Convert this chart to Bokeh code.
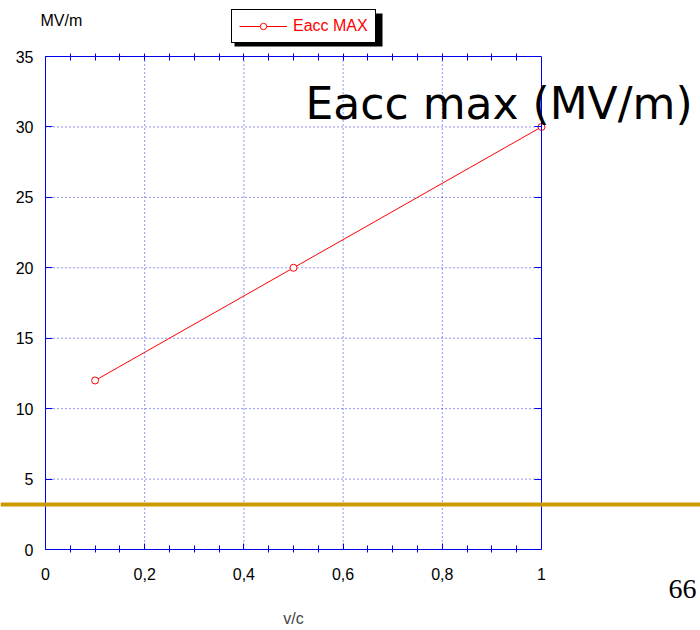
from bokeh.plotting import figure
from bokeh.models import (Range1d, LinearAxis, FixedTicker, Label, Legend,
                          LegendItem, BoxAnnotation)
from bokeh.embed import file_html
from bokeh.resources import INLINE

# ---- data ----
velocity_ratio = [0.1, 0.5, 1.0]
eacc_max = [12, 20, 30]
series_label = "Eacc MAX"
x_ticks = [0, 0.2, 0.4, 0.6, 0.8, 1.0]
x_tick_labels = ["0", "0,2", "0,4", "0,6", "0,8", "1"]
x_minor_ticks = [0.05, 0.1, 0.15, 0.25, 0.3, 0.35, 0.45, 0.5, 0.55,
                 0.65, 0.7, 0.75, 0.85, 0.9, 0.95]
y_ticks = [0, 5, 10, 15, 20, 25, 30, 35]
band_level = 3.2
slide_title = "Eacc max (MV/m)"
y_unit = "MV/m"
x_name = "v/c"
page_number = "66"

# ---- layout (pixels) ----
W, H = 700, 630
FRAME_L, FRAME_R, FRAME_T, FRAME_B = 45, 541, 56, 549   # plot box inside canvas
x0, x1 = x_ticks[0], x_ticks[-1]
y0, y1 = y_ticks[0], y_ticks[-1]
sx = (FRAME_R - FRAME_L) / (x1 - x0)
sy = (FRAME_B - FRAME_T) / (y1 - y0)
x_range = Range1d(x0 - FRAME_L / sx, x1 + (W - FRAME_R) / sx)
y_range = Range1d(y0 - (H - FRAME_B) / sy, y1 + FRAME_T / sy)

BLUE = "#0000ee"
FONT = "Liberation Sans"

p = figure(width=W, height=H, x_range=x_range, y_range=y_range,
           output_backend="svg", toolbar_location=None,
           x_axis_location=None, y_axis_location=None,
           min_border=0, min_border_left=0, min_border_right=0,
           min_border_top=0, min_border_bottom=0)
p.outline_line_color = None
p.background_fill_color = "white"
p.border_fill_color = "white"
p.center = [r for r in p.center if r.__class__.__name__ != "Grid"]

# grid (dotted)
grid_x = x_ticks[1:-1]
grid_y = y_ticks[1:]
p.segment(x0=grid_x, y0=[y0] * len(grid_x), x1=grid_x, y1=[y1] * len(grid_x),
          line_color=BLUE, line_alpha=0.85, line_dash="1 3", line_width=1)
p.segment(x0=[x0] * len(grid_y), y0=grid_y, x1=[x1] * len(grid_y), y1=grid_y,
          line_color=BLUE, line_alpha=0.85, line_dash="1 3", line_width=1)

# axes at fixed locations
bottom = LinearAxis(fixed_location=y0, bounds=(x0, x1),
                    ticker=FixedTicker(ticks=x_ticks, minor_ticks=x_minor_ticks),
                    axis_label=x_name)
bottom.major_label_overrides = {t: l for t, l in zip(x_ticks, x_tick_labels)}
bottom.major_tick_in, bottom.major_tick_out = 6, 0
bottom.minor_tick_in, bottom.minor_tick_out = 4, 3
bottom.major_label_standoff = 15
bottom.axis_label_standoff = 27
bottom.axis_label_text_font = FONT
bottom.axis_label_text_font_size = "16px"
bottom.axis_label_text_font_style = "normal"

top = LinearAxis(fixed_location=y1, bounds=(x0, x1),
                 ticker=FixedTicker(ticks=[], minor_ticks=x_minor_ticks + x_ticks[1:-1]))
top.minor_tick_in, top.minor_tick_out = 4, 3

left = LinearAxis(fixed_location=x0, bounds=(y0, y1),
                  ticker=FixedTicker(ticks=y_ticks, minor_ticks=[]))
left.major_tick_in, left.major_tick_out = 7, 0
left.minor_tick_in, left.minor_tick_out = 0, 0
left.major_label_standoff = 12

right = LinearAxis(fixed_location=x1, bounds=(y0, y1),
                   ticker=FixedTicker(ticks=[], minor_ticks=y_ticks[1:-1]))
right.minor_tick_in, right.minor_tick_out = 7, 0

for ax in (bottom, top, left, right):
    ax.axis_line_color = BLUE
    ax.axis_line_width = 1
    ax.major_tick_line_color = BLUE
    ax.minor_tick_line_color = BLUE
    ax.major_label_text_font = FONT
    ax.major_label_text_font_size = "16px"
    ax.major_label_text_color = "black"
p.add_layout(bottom, "below")
p.add_layout(top, "above")
p.add_layout(left, "left")
p.add_layout(right, "right")

# orange decorative bar of the slide
band = BoxAnnotation(bottom=band_level - 0.14, top=band_level + 0.14,
                     fill_color="#cc9900", fill_alpha=1, line_color=None)
p.add_layout(band)

line = p.line(velocity_ratio, eacc_max, line_color="red", line_width=1)
pts = p.scatter(velocity_ratio, eacc_max, marker="circle", size=7,
                line_color="red", fill_color="white", line_width=1)

# legend with a drop shadow
LEG_X, LEG_Y = 231, 587
shadow = BoxAnnotation(left=LEG_X + 3, right=LEG_X + 151, bottom=LEG_Y - 3, top=LEG_Y + 30,
                       left_units="screen", right_units="screen",
                       bottom_units="screen", top_units="screen",
                       fill_color="black", fill_alpha=1, line_color=None)
p.add_layout(shadow)

legend = Legend(items=[LegendItem(label=series_label, renderers=[line, pts])],
                location=(LEG_X, LEG_Y), label_text_color="red",
                label_text_font=FONT, label_text_font_size="16px",
                border_line_color="black", border_line_width=1, border_line_alpha=1,
                padding=7, margin=0, glyph_width=48, glyph_height=16,
                label_standoff=6, background_fill_color="white",
                background_fill_alpha=1, spacing=0)
p.add_layout(legend, "center")

p.add_layout(Label(x=40, y=610, x_units="screen", y_units="screen", text=y_unit,
                   text_baseline="middle", text_font=FONT, text_font_size="16px",
                   text_color="black"))
p.add_layout(Label(x=305, y=527, x_units="screen", y_units="screen", text=slide_title,
                   text_baseline="alphabetic", text_font="DejaVu Sans",
                   text_font_size="44px", text_color="black"))
p.add_layout(Label(x=668, y=42, x_units="screen", y_units="screen", text=page_number,
                   text_baseline="alphabetic", text_font="Liberation Serif",
                   text_font_size="28px", text_color="black"))

open("out.html", "w").write(file_html(p, INLINE))
